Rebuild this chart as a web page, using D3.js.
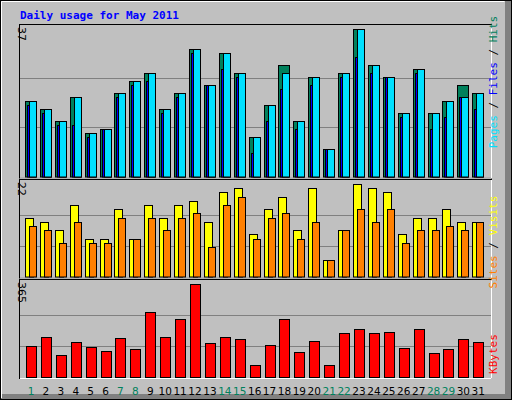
<!DOCTYPE html><html><head><script src="https://d3js.org/d3.v7.min.js"></script>
<style>body{margin:0;background:#fff}</style></head><body><svg id="c" width="512" height="400"></svg>
<script>
const days=d3.range(1,32);
const weekend=[1,7,8,14,15,21,22,28,29];
const hits=[19,17,14,20,11,12,21,24,26,17,21,32,23,31,26,10,18,28,14,25,7,26,37,28,25,16,27,16,19,23,21];
const pages=[19,17,14,20,11,12,21,24,26,17,21,32,23,31,26,10,18,26,14,25,7,26,37,28,25,16,27,16,19,20,21];
const files=[18,16,13,13,10,12,20,23,24,16,20,31,23,27,25,6,14,22,12,23,7,25,30,26,25,15,26,12,15,20,17];
const visits=[14,13,11,17,9,9,16,9,17,14,17,18,13,20,21,10,16,19,11,21,4,11,22,21,20,10,14,14,16,13,13];
const sites=[12,11,8,13,8,8,14,9,14,11,14,15,7,17,19,9,14,15,9,13,4,11,16,13,16,8,11,11,12,11,13];
const kbytes=[120,156,88,136,116,104,152,108,257,156,229,365,132,156,148,48,124,229,100,140,48,172,189,172,176,112,189,96,108,148,136];

const svg=d3.select("#c");
const bg="#c0c0c0";
svg.append("rect").attr("x",0).attr("y",0).attr("width",512).attr("height",400).attr("fill",bg);
// bevel
svg.append("rect").attr("x",505).attr("y",0).attr("width",7).attr("height",400).attr("fill","#808080");
svg.append("rect").attr("x",0).attr("y",394).attr("width",512).attr("height",6).attr("fill","#808080");
svg.append("rect").attr("x",0.5).attr("y",0.5).attr("width",511).attr("height",399).attr("fill","none").attr("stroke","#000");
svg.append("path").attr("d","M1.5,398V1.5H504.5").attr("stroke","#fff").attr("fill","none");

svg.append("text").attr("x",20).attr("y",19).text("Daily usage for May 2011")
 .attr("font-family","DejaVu Sans Mono").attr("font-weight","bold").attr("font-size",11).attr("fill","#0000ff");

const x=d3.scaleLinear().domain([1,31]).range([25,25+30*14.91]);
const left=20,right=491;
const panels=[
 {top:25,bot:177.5,max:37,label:"37"},
 {top:180,bot:277.5,max:22,label:"22"},
 {top:280,bot:378,max:365,label:"365"}];
panels.forEach(p=>{
  svg.append("rect").attr("x",left-0.5).attr("y",p.top-0.5).attr("width",right-left+1).attr("height",p.bot-p.top+1)
   .attr("fill",bg).attr("stroke","#000");
  svg.append("path").attr("d",`M${right+0.5},${p.top}V${p.bot+0.5}H${left}`).attr("stroke","#fff").attr("fill","none");
  p.y=d3.scaleLinear().domain([0,p.max]).range([p.bot-1,p.top+4]);
  [1/3,2/3].forEach(f=>{const yy=Math.round(p.y(p.max*f))+0.5;
    svg.append("line").attr("x1",left).attr("x2",right).attr("y1",yy).attr("y2",yy).attr("stroke","#808080");});
  svg.append("text").attr("transform",`translate(18,${p.top+2}) rotate(90)`).text(p.label)
   .attr("font-family","DejaVu Sans").attr("font-size",11).attr("fill","#000");
});
function bars(data,p,dx,w,color){
  svg.append("g").selectAll("rect").data(data).join("rect")
   .attr("x",(d,i)=>Math.round(x(i+1))+dx+0.5).attr("width",w)
   .attr("y",d=>Math.round(p.y(d))+0.5).attr("height",d=>p.bot-1-Math.round(p.y(d)))
   .attr("fill",color).attr("stroke","#000");
}
bars(hits,panels[0],0,11,"#00805c");
bars(files,panels[0],2,8,"#0000ff");
bars(pages,panels[0],4,7,"#00e0ff");
bars(visits,panels[1],0,8,"#ffff00");
bars(sites,panels[1],4,7,"#ff8000");
bars(kbytes,panels[2],1,10,"#ff0000");

svg.append("g").selectAll("text").data(days).join("text")
 .attr("x",d=>x(d)+6).attr("y",395).attr("text-anchor","middle").text(d=>d)
 .attr("font-family","DejaVu Sans").attr("font-size",10.5)
 .attr("fill",d=>weekend.includes(d)?"#00805c":"#000");

function vlabel(yc,parts){
  const t=svg.append("text").attr("transform",`translate(497,${yc}) rotate(-90)`).attr("text-anchor","middle")
   .attr("font-family","DejaVu Sans Mono").attr("font-size",11);
  parts.forEach(([s,c])=>t.append("tspan").text(s).attr("fill",c));
}
vlabel(82,[["Pages","#00e0ff"],[" / ","#000"],["Files","#0000ff"],[" / ","#000"],["Hits","#00805c"]]);
vlabel(242,[["Sites","#ff8000"],[" / ","#000"],["Visits","#ffff00"]]);
vlabel(354,[["KBytes","#ff0000"]]);
</script></body></html>
